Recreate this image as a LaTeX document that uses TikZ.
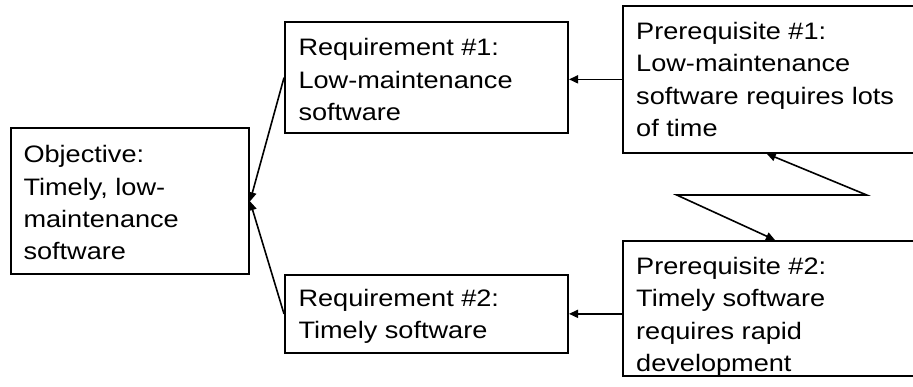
\documentclass[tikz,border=0pt]{standalone}
\usepackage{fontspec}
\setmainfont[FakeStretch=1.14]{Liberation Sans}
\usetikzlibrary{arrows.meta}
\begin{document}
\begin{tikzpicture}[x=1pt,y=-1pt,
  box/.style={draw, line width=2pt, inner sep=0pt, anchor=north west},
  % captions are placed by the baseline of their last line
  boxtext/.style={anchor=base west, inner sep=0pt, align=left,
    font=\fontsize{23.8}{32.3}\selectfont},
  tip/.tip={Triangle[length=9pt,width=8pt]},
  connector/.style={line width=1.6pt, -tip}]
  \clip (0,0) rectangle (913,386);
  \fill[white] (0,0) rectangle (913,386);

  % frames
  \node[box, minimum width=238pt, minimum height=146pt]   (obj)  at (10,127.3) {};
  \node[box, minimum width=283pt, minimum height=111.3pt] (req1) at (284,21) {};
  \node[box, minimum width=283pt, minimum height=77.7pt]  (req2) at (284,274) {};
  \node[box, minimum width=320pt, minimum height=146.7pt] (pre1) at (622,5) {};
  \node[box, minimum width=320pt, minimum height=135pt]   (pre2) at (622,240) {};

  % captions
  \node[boxtext] (objt)  at (23.3,259.6) {Objective:\\Timely, low-\\maintenance\\software};
  \node[boxtext] (req1t) at (298.3,120.5) {Requirement \#1:\\Low-maintenance\\software};
  \node[boxtext] (req2t) at (298.3,338.6) {Requirement \#2:\\Timely software};
  \node[boxtext] (pre1t) at (636,136.5) {Prerequisite \#1:\\Low-maintenance\\software requires lots\\of time};
  \node[boxtext] (pre2t) at (636,371.5) {Prerequisite \#2:\\Timely software\\requires rapid\\development};

  % links
  \draw[connector] (pre1.west) -- (req1.east |- pre1.west);
  \draw[connector] (pre2.west |- req2.east) -- (req2.east);
  \draw[connector] (req1.west) -- (obj.east);
  \draw[connector] (req2.west) -- (obj.east);

  % conflict zig-zag between the prerequisites
  \coordinate (zr) at (866.7,195);
  \coordinate (zl) at (676.7,195);
  \draw[line width=1.6pt, tip-tip]
    ([xshift=144.7pt]pre1.south west) -- (zr) -- (zl) -- ([xshift=153pt]pre2.north west);
\end{tikzpicture}
\end{document}
